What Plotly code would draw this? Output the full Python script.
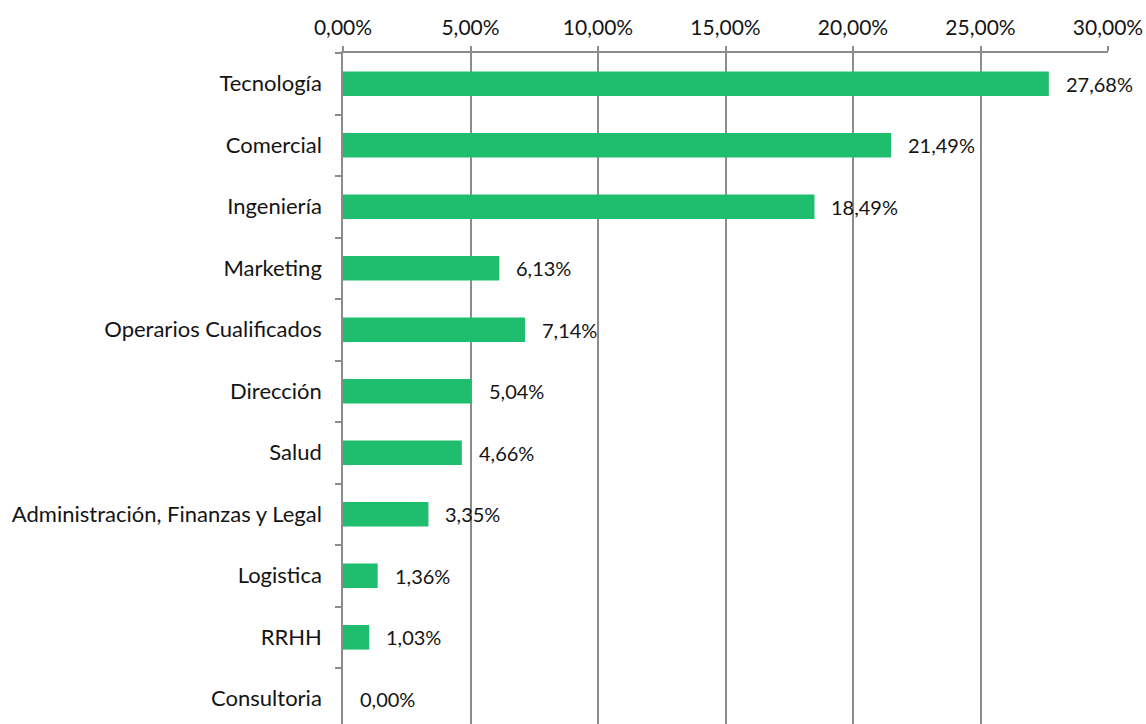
import plotly.graph_objects as go

# Share of job offers by area (%)
categories = [
    "Tecnología", "Comercial", "Ingeniería", "Marketing",
    "Operarios Cualificados", "Dirección", "Salud",
    "Administración, Finanzas y Legal", "Logistica", "RRHH", "Consultoria",
]
values = [27.68, 21.49, 18.49, 6.13, 7.14, 5.04, 4.66, 3.35, 1.36, 1.03, 0.00]
x_ticks = [0, 5, 10, 15, 20, 25, 30]


def pct(v):
    return f"{v:.2f}%".replace(".", ",")


FONT = "Lato"
TEXT = "#141414"
GRID = "#8c8c8c"
BAR = "#1fbe6f"

fig = go.Figure()
fig.add_trace(go.Bar(
    x=values,
    y=categories,
    orientation="h",
    width=0.4,
    marker=dict(color=BAR, line=dict(width=0)),
    hoverinfo="skip",
))

# Value labels to the right of each bar
for cat, v in zip(categories, values):
    fig.add_annotation(
        x=v, y=cat, xref="x", yref="y",
        text=pct(v),
        showarrow=False, xanchor="left", yanchor="middle",
        xshift=15, font=dict(family=FONT, size=20, color=TEXT),
    )

fig.update_layout(
    width=1146, height=724,
    margin=dict(l=343, r=38, t=53, b=0),
    paper_bgcolor="white", plot_bgcolor="white",
    showlegend=False,
)
fig.update_xaxes(
    side="top",
    range=[0, 30],
    tickvals=x_ticks,
    ticktext=[pct(t) for t in x_ticks],
    tickfont=dict(family=FONT, size=21, color=TEXT),
    showgrid=True, gridcolor=GRID, gridwidth=1.5,
    showline=True, linecolor=GRID, linewidth=1.5,
    ticks="outside", ticklen=5, tickcolor=GRID, tickwidth=1.5,
    ticklabelstandoff=3,
    zeroline=False,
)
fig.update_yaxes(
    categoryorder="array", categoryarray=categories,
    range=[10.41, -0.5],
    tickfont=dict(family=FONT, size=22, color=TEXT),
    showline=True, linecolor=GRID, linewidth=1.5,
    ticks="outside", tickson="boundaries", ticklen=6,
    tickcolor=GRID, tickwidth=1.5,
    ticklabelstandoff=15,
    showgrid=False,
)

fig.write_html("out.html")
